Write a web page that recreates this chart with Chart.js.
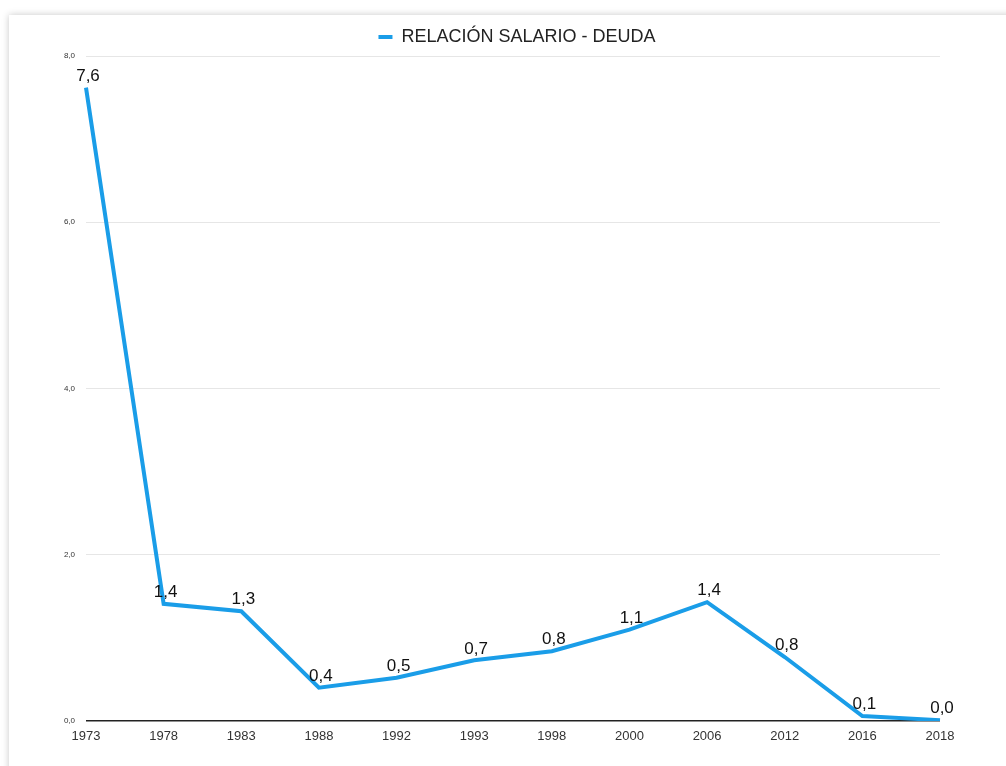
<!DOCTYPE html>
<html>
<head>
<meta charset="utf-8">
<script src="https://cdn.jsdelivr.net/npm/chart.js@4/dist/chart.umd.min.js"></script>
<style>
    html, body { margin: 0; padding: 0; background: #fff; }
    body { width: 1006px; height: 766px; overflow: hidden; position: relative; }
    .card {
        position: absolute; left: 9px; top: 15px; width: 1020px; height: 780px;
        background: #fff; box-shadow: 0 0 7px rgba(0, 0, 0, 0.22);
    }
    #wrap { position: absolute; left: 0; top: 0; width: 1006px; height: 766px; }
</style>
</head>
<body>
<div class="card"></div>
<div id="wrap"><canvas id="myChart"></canvas></div>
<script>
const years = ['1973', '1978', '1983', '1988', '1992', '1993', '1998', '2000', '2006', '2012', '2016', '2018'];
const ratio = [7.62, 1.41, 1.32, 0.40, 0.52, 0.73, 0.84, 1.10, 1.43, 0.77, 0.06, 0.01];
const seriesName = 'RELACIÓN SALARIO - DEUDA';

const fmt = (v) => v.toFixed(1).replace('.', ',');

// draws the value above each point
const valueLabels = {
    id: 'valueLabels',
    afterLayout(chart) {
        // legend sits centred on the whole card, not on the plot
        chart.legend.left += 47;
        chart.legend.right += 47;
    },
    afterDatasetsDraw(chart) {
        const ctx = chart.ctx;
        const meta = chart.getDatasetMeta(0);
        ctx.save();
        ctx.font = '17px "Liberation Sans", Arial, sans-serif';
        ctx.fillStyle = '#111';
        ctx.textAlign = 'center';
        ctx.textBaseline = 'bottom';
        meta.data.forEach((pt, i) => {
            ctx.fillText(fmt(ratio[i]), pt.x + 2, pt.y - 3);
        });
        ctx.restore();
    }
};

const renderChart = () => {
    const ctx = document.getElementById('myChart').getContext('2d');

    new Chart(ctx, {
        type: 'line',
        data: {
            labels: years,
            datasets: [{
                label: seriesName,
                data: ratio,
                borderColor: '#1a9de8',
                backgroundColor: '#1a9de8',
                borderWidth: 4,
                pointRadius: 0,
                tension: 0,
                borderJoinStyle: 'miter'
            }]
        },
        options: {
            responsive: true,
            maintainAspectRatio: false,
            animation: false,
            layout: { padding: { top: 18, right: 66, left: 0, bottom: 0 } },
            plugins: {
                tooltip: { enabled: false },
                legend: {
                    position: 'top',
                    labels: {
                        usePointStyle: true,
                        pointStyle: 'line',
                        pointStyleWidth: 14,
                        padding: 10,
                        color: '#222',
                        font: { family: '"Liberation Sans", Arial, sans-serif', size: 18 }
                    }
                }
            },
            scales: {
                x: {
                    grid: { display: false },
                    border: { display: false },
                    ticks: {
                        color: '#333',
                        padding: 0,
                        maxRotation: 0,
                        font: { family: '"Liberation Sans", Arial, sans-serif', size: 13 }
                    },
                    afterFit: (scale) => { scale.height = 45; }
                },
                y: {
                    min: 0,
                    max: 8,
                    border: { display: false },
                    grid: {
                        drawTicks: false,
                        color: (c) => c.tick && c.tick.value === 0 ? '#222' : '#e6e6e6',
                        lineWidth: (c) => c.tick && c.tick.value === 0 ? 1.5 : 1
                    },
                    ticks: {
                        stepSize: 2,
                        padding: 11,
                        color: '#333',
                        font: { family: '"Liberation Sans", Arial, sans-serif', size: 8 },
                        callback: (v) => fmt(v)
                    },
                    afterFit: (scale) => { scale.width = 86; }
                }
            }
        },
        plugins: [valueLabels]
    });
};

window.addEventListener('load', renderChart);
</script>
</body>
</html>
